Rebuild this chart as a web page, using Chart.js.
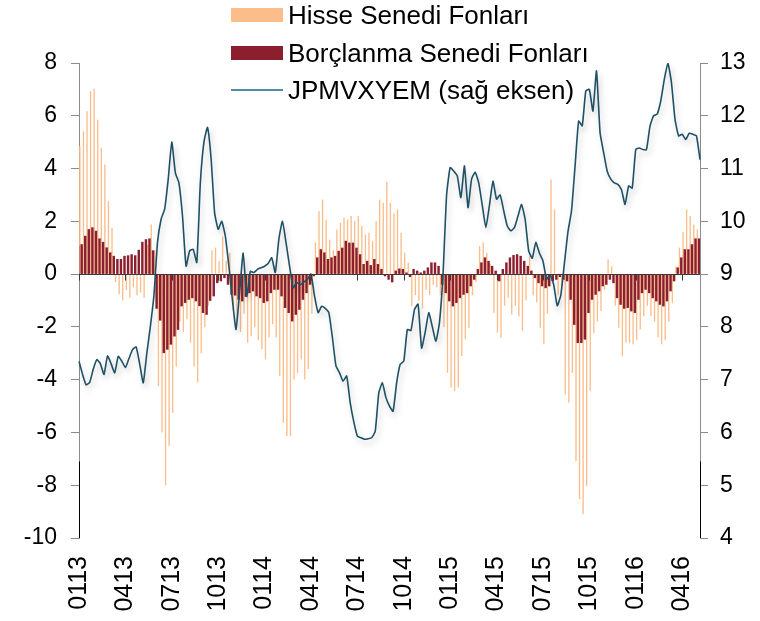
<!DOCTYPE html>
<html>
<head>
<meta charset="utf-8">
<script src="https://cdn.jsdelivr.net/npm/chart.js@4/dist/chart.umd.min.js"></script>
<style>
  html, body { margin: 0; padding: 0; background: #ffffff; }
  #wrap { position: relative; width: 760px; height: 621px; }
  #legend { position: absolute; left: 231px; top: 0; font-family: "Liberation Sans", Arial, sans-serif; font-size: 26px; color: #000; }
  .row { position: absolute; left: 0; height: 30px; white-space: nowrap; display: flex; align-items: center; }
  .sw { width: 52px; height: 14px; margin-right: 5px; flex: none; }
  .ln { width: 52px; height: 2px; margin-right: 5px; flex: none; }
</style>
</head>
<body>
<div id="wrap">
  <canvas id="c" width="760" height="621"></canvas>
  <div id="legend"></div>
</div>
<script>
// ---- data (weekly, Jan 2013 .. May 2016) ----
const tickLabels = ['0113','0413','0713','1013','0114','0414','0714','1014','0115','0415','0715','1015','0116','0416'];
const tickEvery = 13;

const seriesNames = ['Hisse Senedi Fonları', 'Borçlanma Senedi Fonları', 'JPMVXYEM (sağ eksen)'];

const hisse = [
  4.85,5.42,6.17,6.93,7.02,5.86,4.79,4.15,2.77,1.76,
  -0.3,-0.77,-1.0,-0.6,-0.9,-0.5,-0.8,-0.7,-0.9,1.1,
  1.88,0.9,-4.24,-6.0,-8.0,-6.5,-5.25,-3.5,-1.8,-2.2,
  -1.7,-2.6,-3.5,-4.1,-3.0,-2.0,-1.2,0.9,1.0,0.5,
  1.43,0.5,0.8,-1.4,-1.8,-2.2,-1.5,-2.6,-2.35,-2.0,
  -2.5,-2.85,-3.23,-2.4,-1.9,-2.4,-3.86,-5.63,-6.13,-6.13,
  -3.99,-3.74,-3.23,-3.99,-3.6,-1.5,1.2,2.39,2.83,2.07,
  1.3,0.9,1.69,1.95,2.14,2.07,2.2,2.01,2.2,1.82,
  1.5,1.57,1.25,2.01,2.83,2.7,3.49,2.7,2.3,2.45,
  1.57,0.81,0.43,-1.21,-0.8,-1.0,-1.3,-0.6,-0.8,-0.4,
  -0.5,-0.8,-2.0,-3.74,-4.3,-4.43,-4.3,-3.1,-2.47,-2.03,
  -0.8,-0.3,1.06,1.2,0.8,0.4,-1.46,-2.22,-2.41,-1.2,
  -0.9,-1.53,-1.2,-1.6,-2.15,-1.0,0.68,-0.8,-1.08,-2.03,
  -2.66,-1.5,3.59,2.45,-0.8,-0.5,-4.56,-4.87,-3.74,-7.08,
  -8.53,-9.1,-8.03,-4.43,-2.22,-1.8,-1.4,-0.6,0.56,0.3,
  -1.2,-2.03,-3.1,-2.6,-2.6,-2.66,-2.5,-2.1,-1.6,-1.2,
  -1.6,-1.8,-2.4,-2.66,-2.5,-1.8,-1.1,0.3,1.0,1.6,
  2.45,2.2,1.88,1.69,1.5
];

const borc = [
  1.06,1.12,1.44,1.69,1.76,1.63,1.34,1.21,1.0,0.81,
  0.68,0.56,0.56,0.68,0.7,0.74,0.7,0.91,1.21,1.31,
  1.34,0.89,-1.3,-1.75,-2.98,-2.85,-2.66,-2.35,-2.1,-1.21,
  -1.08,-0.96,-0.9,-1.02,-1.2,-1.46,-1.53,-1.0,-0.83,-0.33,
  -0.26,-0.14,-0.39,-0.77,-0.8,-0.96,-1.02,-0.85,-0.71,-0.64,
  -0.83,-0.9,-1.08,-1.02,-0.71,-0.58,-0.58,-0.83,-1.27,-1.46,
  -1.78,-1.53,-1.34,-0.96,-0.71,-0.39,-0.07,0.62,0.93,0.81,
  0.56,0.62,0.68,0.87,0.99,1.25,1.18,1.18,0.99,0.74,
  0.37,0.49,0.33,0.56,0.37,0.18,-0.07,-0.2,-0.3,0.12,
  0.2,0.18,0.05,-0.1,0.18,0.12,0.05,0.12,0.24,0.43,
  0.43,0.3,-0.39,-0.71,-1.02,-1.21,-1.08,-0.9,-0.77,-0.71,
  -0.45,-0.2,0.18,0.43,0.62,0.49,0.3,0.12,-0.26,0.18,
  0.43,0.62,0.71,0.74,0.68,0.49,0.3,0.12,-0.14,-0.33,
  -0.45,-0.52,-0.45,-0.26,-0.2,-0.1,-0.2,-0.26,-0.96,-1.91,
  -2.6,-2.6,-2.47,-1.46,-0.96,-0.77,-0.64,-0.45,-0.39,-0.2,
  -0.33,-0.9,-1.15,-1.3,-1.27,-1.4,-1.46,-0.96,-0.71,-0.58,
  -0.71,-0.9,-1.02,-1.15,-1.21,-1.02,-0.64,-0.26,0.24,0.62,
  0.93,0.93,1.12,1.34,1.34
];

const jpm = [
  7.35,7.1,6.9,6.95,7.2,7.38,7.3,7.1,7.45,7.3,
  7.13,7.44,7.35,7.23,7.4,7.57,7.62,7.3,6.94,7.5,
  8.01,8.6,9.6,10.04,10.23,10.8,11.5,10.92,10.73,10.1,
  9.15,9.44,9.47,9.22,10.73,11.5,11.78,11.2,10.16,9.85,
  10.0,9.72,9.15,8.5,7.95,8.65,9.4,8.58,9.05,9.03,
  9.09,9.12,9.15,9.2,9.31,9.03,9.66,10.0,9.6,9.15,
  8.74,8.84,8.8,8.85,8.9,9.0,8.58,8.27,8.39,8.35,
  8.27,7.8,7.26,7.13,6.97,7.07,6.56,6.2,5.93,5.9,
  5.87,5.88,5.9,6.02,6.75,6.94,6.66,6.5,6.4,6.94,
  7.29,7.35,7.95,7.93,8.33,8.43,7.6,7.9,8.27,8.0,
  7.73,8.08,9.0,10.5,11.02,10.95,10.86,10.45,11.05,10.26,
  10.8,10.93,10.73,10.3,9.88,10.3,10.76,10.42,10.5,10.2,
  9.91,9.82,9.88,10.1,10.32,10.04,9.44,9.3,9.6,9.4,
  9.25,8.9,8.99,8.8,8.4,8.6,9.2,9.8,10.2,11.05,
  11.9,11.81,12.47,12.5,12.09,12.85,11.68,11.3,10.95,10.8,
  10.73,10.7,10.6,10.32,10.67,10.63,11.36,11.39,11.36,11.36,
  11.81,12.0,12.03,12.28,12.69,13.0,12.63,11.93,11.62,11.65,
  11.55,11.67,11.65,11.62,11.17
];

// ---- styles ----
const cOrange = '#fbbd8a';
const cDark = '#8b1f2e';
const cLine = '#1f5166';
const cLegendLine = '#4f8ea0';
const cAxis = '#8c8c8c';
const FONT = '"Liberation Sans", Arial, sans-serif';

const categories = hisse.map((_, i) => i);

// legend (HTML, real text)
const legend = document.getElementById('legend');
const legendItems = [
  { name: seriesNames[0], color: cOrange, kind: 'sw', top: 0 },
  { name: seriesNames[1], color: cDark, kind: 'sw', top: 38 },
  { name: seriesNames[2], color: cLegendLine, kind: 'ln', top: 75 }
];
legendItems.forEach(it => {
  const r = document.createElement('div');
  r.className = 'row';
  r.style.top = it.top + 'px';
  const s = document.createElement('div');
  s.className = it.kind;
  s.style.background = it.color;
  r.appendChild(s);
  const t = document.createElement('span');
  t.textContent = it.name;
  r.appendChild(t);
  legend.appendChild(r);
});

const lineShadow = {
  id: 'lineShadow',
  beforeDatasetDraw(chart, args) {
    if (args.index === 2) {
      const ctx = chart.ctx;
      ctx.save();
      ctx.shadowColor = 'rgba(0,0,0,0.22)';
      ctx.shadowBlur = 6;
      ctx.shadowOffsetX = 2;
      ctx.shadowOffsetY = 4;
    }
  },
  afterDatasetDraw(chart, args) {
    if (args.index === 2) chart.ctx.restore();
  }
};

const zeroTicks = {
  id: 'zeroTicks',
  afterDatasetsDraw(chart) {
    const x = chart.scales.x, y = chart.scales.y;
    const ctx = chart.ctx;
    const y0 = Math.round(y.getPixelForValue(0)) + 0.5;
    ctx.save();
    ctx.strokeStyle = '#3a3a3a';
    ctx.lineWidth = 1;
    ctx.beginPath();
    ctx.moveTo(chart.chartArea.left, y0);
    ctx.lineTo(chart.chartArea.right, y0);
    for (let i = 0; i < categories.length; i += tickEvery) {
      const px = Math.round(x.getPixelForValue(i)) + 0.5;
      ctx.moveTo(px, y0);
      ctx.lineTo(px, y0 + 6);
    }
    ctx.stroke();
    // lower part of both vertical axes is drawn darker in the original
    const yTop = y.getPixelForValue(-7.1), yBot = y.getPixelForValue(-10);
    ctx.strokeStyle = '#000';
    ctx.beginPath();
    const l = Math.round(chart.chartArea.left) + 0.5, r = Math.round(chart.chartArea.right) + 0.5;
    ctx.moveTo(l, yTop); ctx.lineTo(l, yBot);
    ctx.moveTo(r, yTop); ctx.lineTo(r, yBot);
    ctx.stroke();
    ctx.restore();
  }
};

new Chart(document.getElementById('c'), {
  data: {
    labels: categories,
    datasets: [
      { type: 'bar', label: seriesNames[0], data: hisse, backgroundColor: cOrange, yAxisID: 'y', order: 2, barPercentage: 0.75, categoryPercentage: 1.0 },
      { type: 'bar', label: seriesNames[1], data: borc, backgroundColor: cDark, yAxisID: 'y', order: 1, barPercentage: 1.0, categoryPercentage: 1.0 },
      { type: 'line', label: seriesNames[2], data: jpm, borderColor: cLine, borderWidth: 1.6, pointRadius: 0, tension: 0.15, yAxisID: 'y2', order: 0 }
    ]
  },
  options: {
    responsive: false,
    animation: false,
    layout: { padding: { top: 63, left: 0, right: 0, bottom: 0 } },
    plugins: { legend: { display: false }, tooltip: { enabled: false } },
    scales: {
      x: {
        type: 'category',
        offset: false,
        grid: { display: false },
        border: { display: false },
        ticks: {
          autoSkip: false,
          maxRotation: 90,
          minRotation: 90,
          padding: 10,
          color: '#000',
          font: { family: FONT, size: 25 },
          callback: function (v, i) { return i % tickEvery === 0 ? tickLabels[i / tickEvery] : null; }
        },
        afterFit(s) { s.height = 83; }
      },
      y: {
        position: 'left',
        min: -10, max: 8,
        ticks: { stepSize: 2, color: '#000', padding: 14, font: { family: FONT, size: 23 } },
        grid: { drawOnChartArea: false, tickLength: 8, color: cAxis, tickColor: cAxis },
        border: { display: true, color: cAxis },
        afterFit(s) { s.width = 79; }
      },
      y2: {
        position: 'right',
        min: 4, max: 13,
        ticks: { stepSize: 1, color: '#000', padding: 12, font: { family: FONT, size: 23 } },
        grid: { drawOnChartArea: false, tickLength: 8, color: cAxis, tickColor: cAxis },
        border: { display: true, color: cAxis },
        afterFit(s) { s.width = 60; }
      }
    }
  },
  plugins: [lineShadow, zeroTicks]
});
</script>
</body>
</html>
